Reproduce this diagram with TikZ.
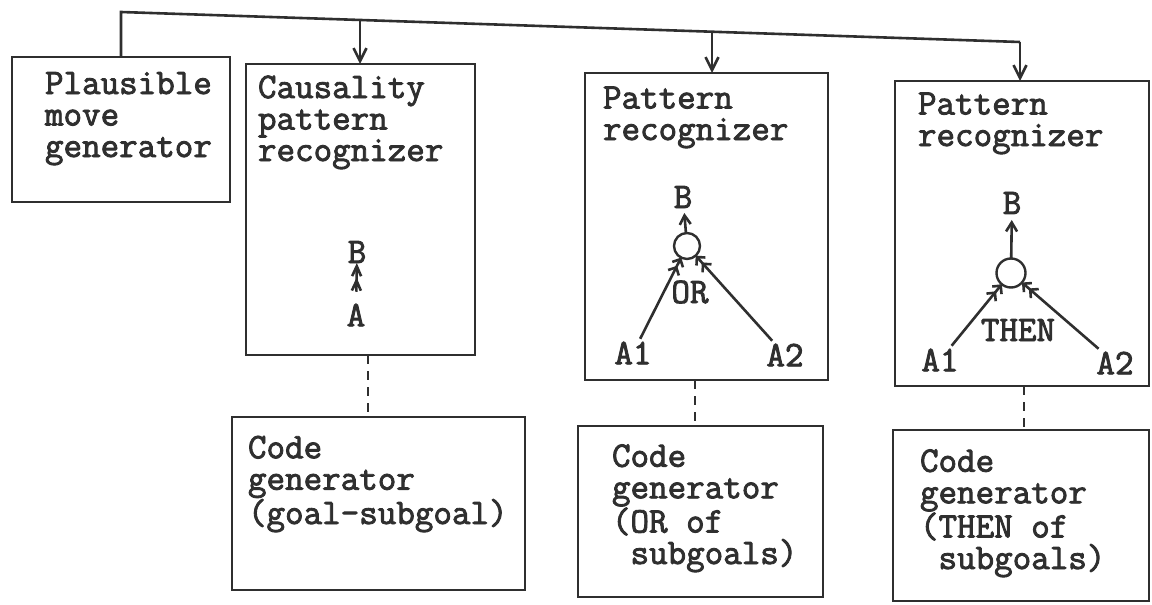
\documentclass[tikz,border=0pt]{standalone}
\usepackage{fontspec}
\newfontfamily\tw{Latin Modern Mono}[FakeBold=2.4]
\usetikzlibrary{arrows.meta}
\definecolor{ink}{HTML}{2F2F2F}
\begin{document}
\begin{tikzpicture}[x=1pt,y=-1pt,
  every node/.style={font=\tw\fontsize{36}{31.5}\selectfont, text=ink, inner sep=0pt, outer sep=0pt},
  box/.style={draw=ink, line width=2.8pt, anchor=north west},
  % multi-line captions are placed by the baseline of their last line
  txt/.style={align=left, anchor=base west},
  wire/.style={draw=ink, line width=2.6pt},
  feed/.style={wire, -{Straight Barb[length=13pt,width=13pt]}},
  link/.style={draw=ink, line width=2.4pt, dash pattern=on 9pt off 7pt},
  hub/.style={circle, draw=ink, line width=2.4pt, minimum size=26pt},
  sym/.style={inner sep=3pt},
  into/.style={wire, -{Straight Barb[length=6pt,width=12pt] Straight Barb[length=6pt,width=12pt]}},
  up/.style={wire, -{Straight Barb[length=9pt,width=11pt]}}
]
\useasboundingbox (0,0) rectangle (1152,605);

% boxes
\node[box, minimum width=218pt, minimum height=145pt] (plaus) at (12,57) {};
\node[box, minimum width=229pt, minimum height=291pt] (caus) at (246,64) {};
\node[box, minimum width=243pt, minimum height=307pt] (pat2) at (585,73) {};
\node[box, minimum width=254pt, minimum height=305pt] (pat3) at (895,81) {};
\node[box, minimum width=293pt, minimum height=173pt] (code1) at (232,417) {};
\node[box, minimum width=245pt, minimum height=171pt] (code2) at (578,426) {};
\node[box, minimum width=256pt, minimum height=171pt] (code3) at (893,430) {};

% box captions
\node[txt] (plaust) at (45,157) {Plausible\\move\\generator};
\node[txt] (caust) at (258,161) {Causality\\pattern\\recognizer};
\node[txt] (pat2t) at (603,140) {Pattern\\recognizer};
\node[txt] (pat3t) at (918,146) {Pattern\\recognizer};
\node[txt] (code1t) at (248,524) {Code\\generator\\(goal-subgoal)};
\node[txt] (code2t) at (612,564) {Code\\generator\\(OR of\\\phantom{(}subgoals)};
\node[txt] (code3t) at (920,569) {Code\\generator\\(THEN of\\\phantom{(}subgoals)};

% distribution rail from the move generator
\coordinate (corner) at (121,12);
\coordinate (rail) at (1020,42);
\coordinate (j1) at (360,20);
\coordinate (j2) at (712,31.7);
\draw[wire, line join=miter] (plaus.north) -- (corner) -- (rail);
\draw[feed] (j1) -- (j1 |- caus.north);
\draw[feed] (j2) -- (j2 |- pat2.north);
\draw[feed] (rail) -- (rail |- pat3.north);

% recognizer to code generator links
\coordinate (d1) at (368,0);
\coordinate (d2) at (695,0);
\coordinate (d3) at (1024,0);
\draw[link] (d1 |- caus.south) -- (d1 |- code1.north);
\draw[link] (d2 |- pat2.south) -- (d2 |- code2.north);
\draw[link] (d3 |- pat3.south) -- (d3 |- code3.north);

% causality: A -> B
\node (cb) at (357,252) {B};
\node (ca) at (356,315) {A};
\draw[wire, -{Straight Barb[length=10pt,width=9pt] Straight Barb[length=10pt,width=9pt]}, shorten <=12pt] (ca) -- (cb);

% OR pattern
\node (pb2) at (683,197) {B};
\node[hub] (ph2) at (687,246) {};
\node (por) at (690,292) {OR};
\node[sym] (pa21) at (633,353) {A1};
\node[sym] (pa22) at (785,355) {A2};
\draw[up, shorten >=5pt] (ph2) -- (pb2);
\draw[into] (pa21) -- (ph2);
\draw[into] (pa22) -- (ph2);

% THEN pattern
\node (pb3) at (1012,203) {B};
\node[hub, minimum size=29pt] (ph3) at (1011,273) {};
\node (pthen) at (1018,330) {THEN};
\node[sym] (pa31) at (940,360) {A1};
\node[sym] (pa32) at (1115,363) {A2};
\draw[up, shorten >=6pt] (ph3) -- (pb3);
\draw[into] (pa31) -- (ph3);
\draw[into] (pa32) -- (ph3);
\end{tikzpicture}
\end{document}
